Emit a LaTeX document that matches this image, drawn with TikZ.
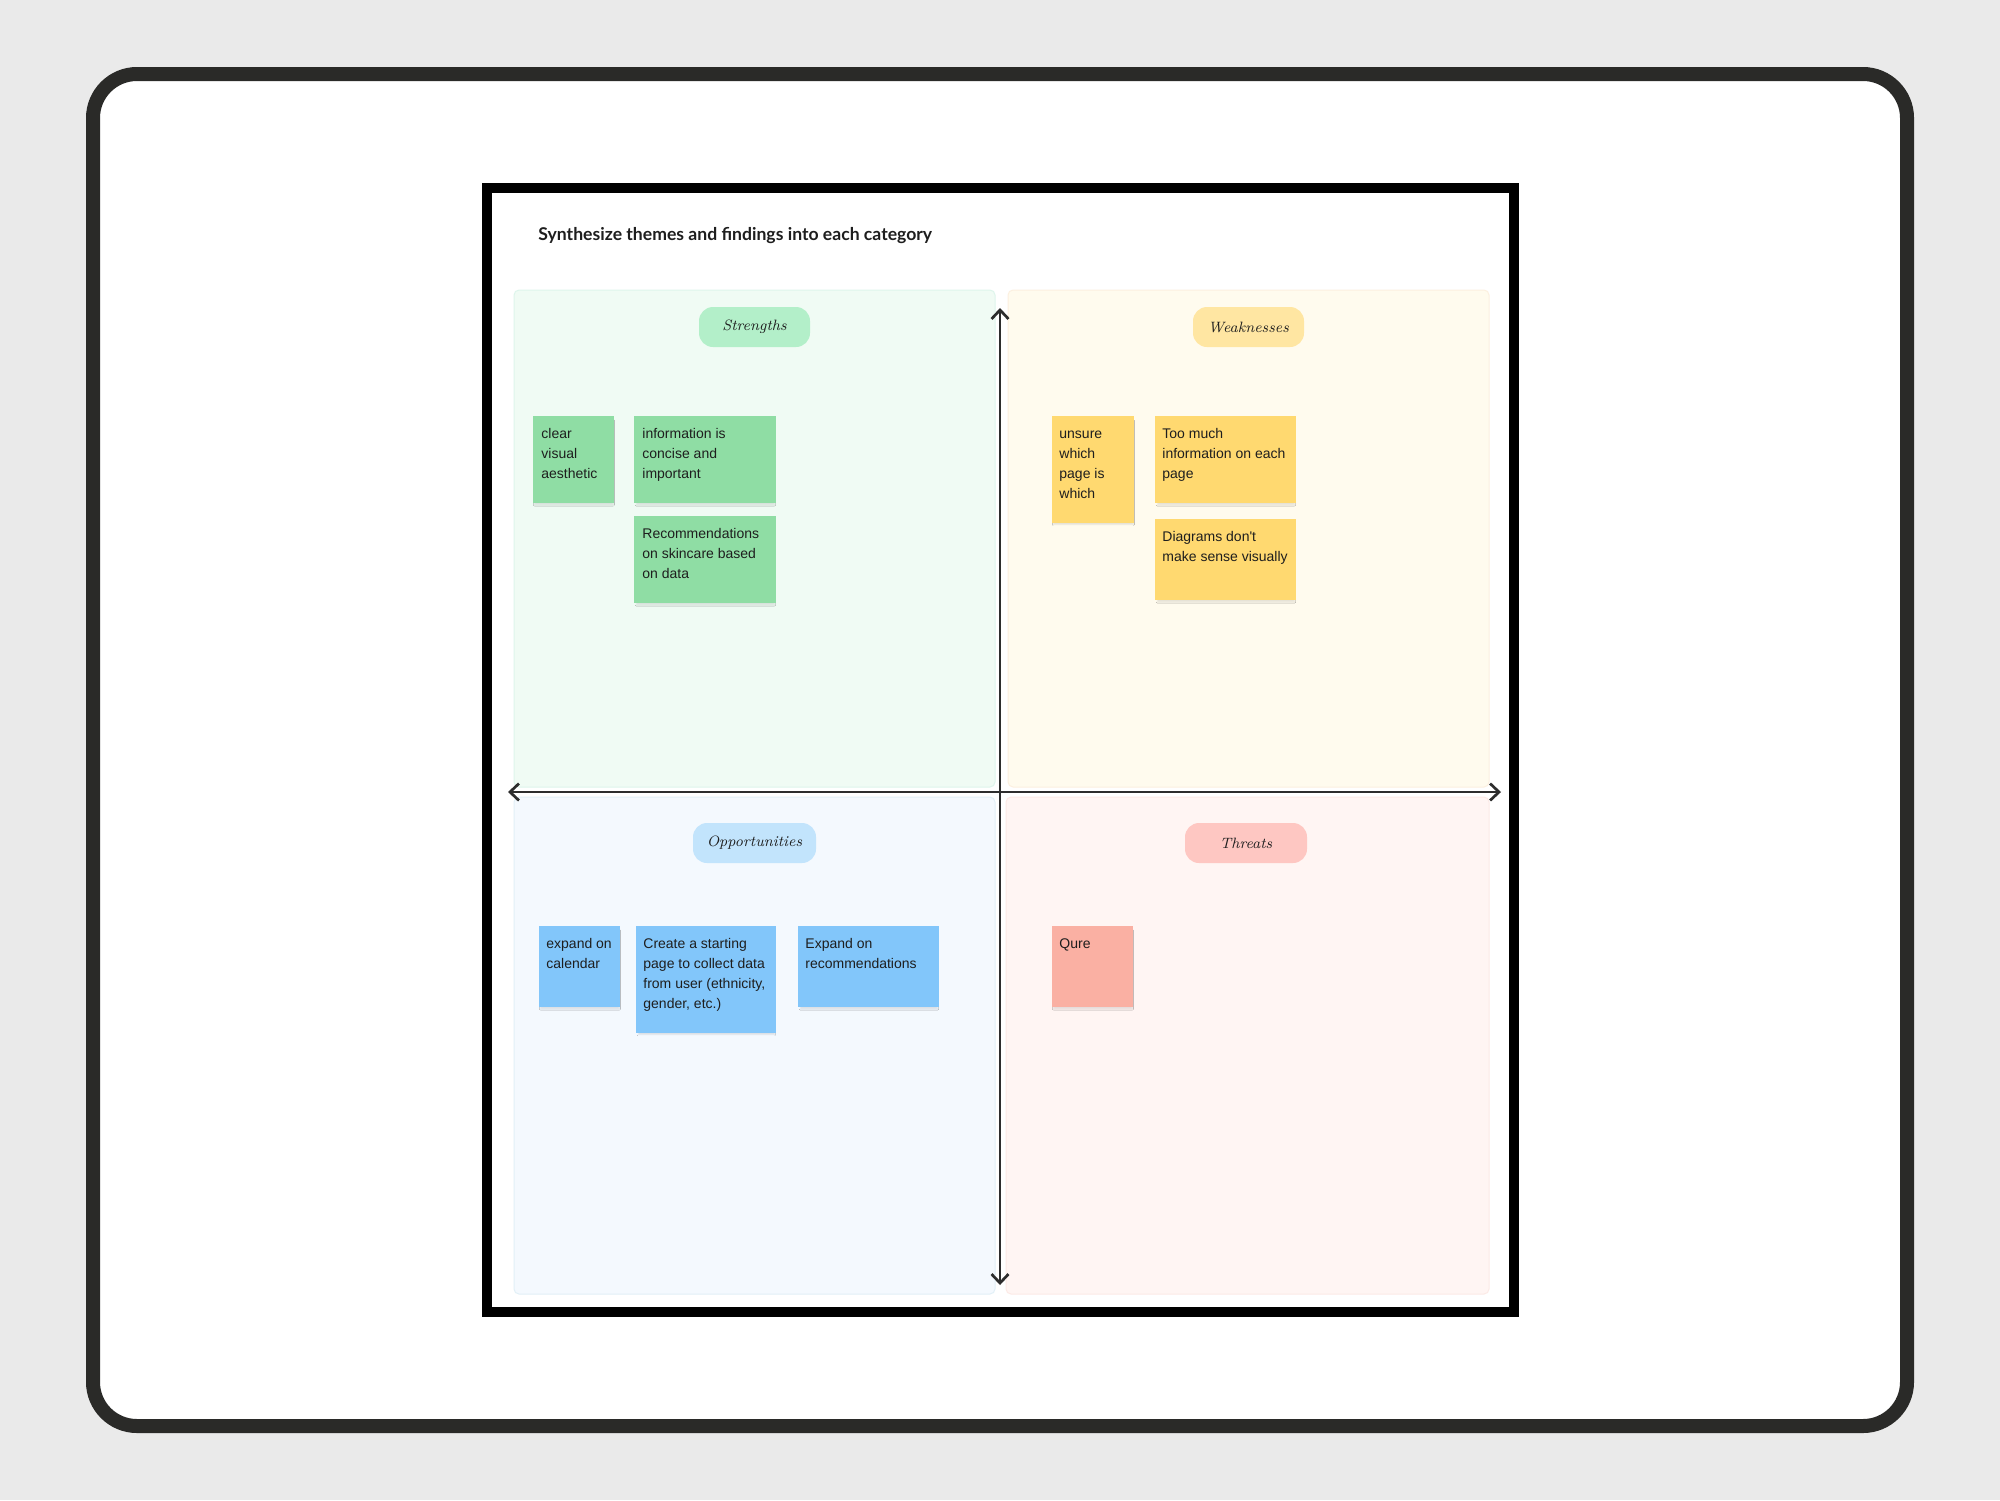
\documentclass[tikz,border=0pt]{standalone}
\usepackage{fontspec}
\usepackage{tikz}
\usetikzlibrary{
	arrows.meta, positioning, calc, shadows.blur
}
\newfontfamily\titlefont{Lato}
\newfontfamily\notefont{Liberation Sans}

\definecolor{bggray}     {RGB}{234, 234, 234}
\definecolor{framedark}  {RGB}{ 42,  42,  40}
\definecolor{axisdark}   {RGB}{ 45,  45,  45}
\definecolor{inktext}    {RGB}{ 30,  30,  30}
\definecolor{quadgreen}  {RGB}{240, 251, 244}
\definecolor{quadyellow} {RGB}{255, 251, 238}
\definecolor{quadblue}   {RGB}{244, 249, 254}
\definecolor{quadred}    {RGB}{255, 245, 243}
\definecolor{edgegreen}  {RGB}{222, 245, 236}
\definecolor{edgeyellow} {RGB}{252, 240, 224}
\definecolor{edgeblue}   {RGB}{226, 240, 247}
\definecolor{edgered}    {RGB}{252, 234, 230}
\definecolor{pillgreen}  {RGB}{179, 239, 201}
\definecolor{pillyellow} {RGB}{255, 230, 162}
\definecolor{pillblue}   {RGB}{194, 228, 252}
\definecolor{pillred}    {RGB}{254, 199, 194}
\definecolor{notegreen}  {RGB}{143, 221, 164}
\definecolor{noteyellow} {RGB}{255, 217, 112}
\definecolor{noteblue}   {RGB}{130, 198, 250}
\definecolor{notered}    {RGB}{250, 176, 163}

\tikzset{
	quadrant/.style={fill=#1, rounded corners=2.5pt, line width=0.5pt},
	axis/.style={draw=axisdark, line width=1.35pt, <->, >={Straight Barb[length=4.5pt, width=8.5pt]}},
	pill/.style={fill=#1, rounded corners=7pt, minimum height=20pt, inner sep=0pt,
		font=\itshape\fontsize{7.5}{9}\selectfont, text=inktext},
	note/.style={fill=#1, anchor=north west, inner sep=0pt,
		blur shadow={shadow xshift=0pt, shadow yshift=-1.4pt, shadow scale=0.975,
			shadow opacity=10, shadow blur radius=0.5pt}},
	notetext/.style={anchor=base west, align=left, inner sep=0pt,
		font=\notefont\fontsize{7}{10}\selectfont, text=inktext}
}

\begin{document}
\begin{tikzpicture}[x=0.5pt, y=-0.5pt]
	\useasboundingbox (0,0) rectangle (2000,1500);
	\fill[bggray] (0,0) rectangle (2000,1500);
	% device frame and board
	\draw[draw=framedark, line width=7pt, fill=white, rounded corners=22pt] (93,74) rectangle (1907,1426);
	\draw[line width=5pt, fill=white] (487,188) rectangle (1514,1312);
	\node[anchor=base west, inner sep=0pt, font=\titlefont\bfseries\fontsize{8.8}{11}\selectfont, text=inktext]
		(title) at (538,240) {Synthesize themes and findings into each category};

	% quadrants
	\draw[quadrant=quadgreen,  draw=edgegreen]  (514,290) rectangle (995,787);
	\draw[quadrant=quadyellow, draw=edgeyellow] (1008,290) rectangle (1489,787);
	\draw[quadrant=quadblue,   draw=edgeblue]   (514,797) rectangle (995,1294);
	\draw[quadrant=quadred,    draw=edgered]    (1006,797) rectangle (1489,1294);

	% axes
	\coordinate (axW) at (508,792);
	\coordinate (axE) at (1501,792);
	\coordinate (axN) at (1000,308);
	\coordinate (axS) at (1000,1285);
	\draw[axis] (axW) -- (axE);
	\draw[axis] (axN) -- (axS);

	% headings
	\node[pill=pillgreen,  minimum width=55.5pt] (strengths)     at (754.5,327)  {Strengths};
	\node[pill=pillyellow, minimum width=55.5pt] (weaknesses)    at (1248.5,327) {Weaknesses};
	\node[pill=pillblue,   minimum width=61.5pt] (opportunities) at (754.5,843)  {Opportunities};
	\node[pill=pillred,    minimum width=61pt]   (threats)       at (1246,843)   {Threats};

	% strengths (text anchored on the baseline of its last line)
	\node[note=notegreen, minimum width=40.5pt, minimum height=43.5pt] (str1) at (533,416) {};
	\node[notetext] (str1t) at ([shift={(8,62)}]str1.north west) {clear\\visual\\aesthetic};
	\node[note=notegreen, minimum width=71pt, minimum height=43.5pt] (str2) at (634,416) {};
	\node[notetext] (str2t) at ([shift={(8,62)}]str2.north west) {information is\\concise and\\important};
	\node[note=notegreen, minimum width=71pt, minimum height=43.5pt] (str3) at (634,516) {};
	\node[notetext] (str3t) at ([shift={(8,62)}]str3.north west) {Recommendations\\on skincare based\\on data};

	% weaknesses
	\node[note=noteyellow, minimum width=41pt, minimum height=53.5pt] (wk1) at (1052,416) {};
	\node[notetext] (wk1t) at ([shift={(7,82)}]wk1.north west) {unsure\\which\\page is\\which};
	\node[note=noteyellow, minimum width=70.5pt, minimum height=43.5pt] (wk2) at (1155,416) {};
	\node[notetext] (wk2t) at ([shift={(7,62)}]wk2.north west) {Too much\\information on each\\page};
	\node[note=noteyellow, minimum width=70.5pt, minimum height=40.5pt] (wk3) at (1155,519) {};
	\node[notetext] (wk3t) at ([shift={(7,42)}]wk3.north west) {Diagrams don't\\make sense visually};

	% opportunities
	\node[note=noteblue, minimum width=40.5pt, minimum height=40.5pt] (opp1) at (539,926) {};
	\node[notetext] (opp1t) at ([shift={(7,42)}]opp1.north west) {expand on\\calendar};
	\node[note=noteblue, minimum width=70pt, minimum height=53.5pt] (opp2) at (636,926) {};
	\node[notetext] (opp2t) at ([shift={(7,82)}]opp2.north west) {Create a starting\\page to collect data\\from user (ethnicity,\\gender, etc.)};
	\node[note=noteblue, minimum width=70.5pt, minimum height=40.5pt] (opp3) at (798,926) {};
	\node[notetext] (opp3t) at ([shift={(7,42)}]opp3.north west) {Expand on\\recommendations};

	% threats
	\node[note=notered, minimum width=40.5pt, minimum height=40.5pt] (thr1) at (1052,926) {};
	\node[notetext] (thr1t) at ([shift={(7,22)}]thr1.north west) {Qure};
\end{tikzpicture}
\end{document}
